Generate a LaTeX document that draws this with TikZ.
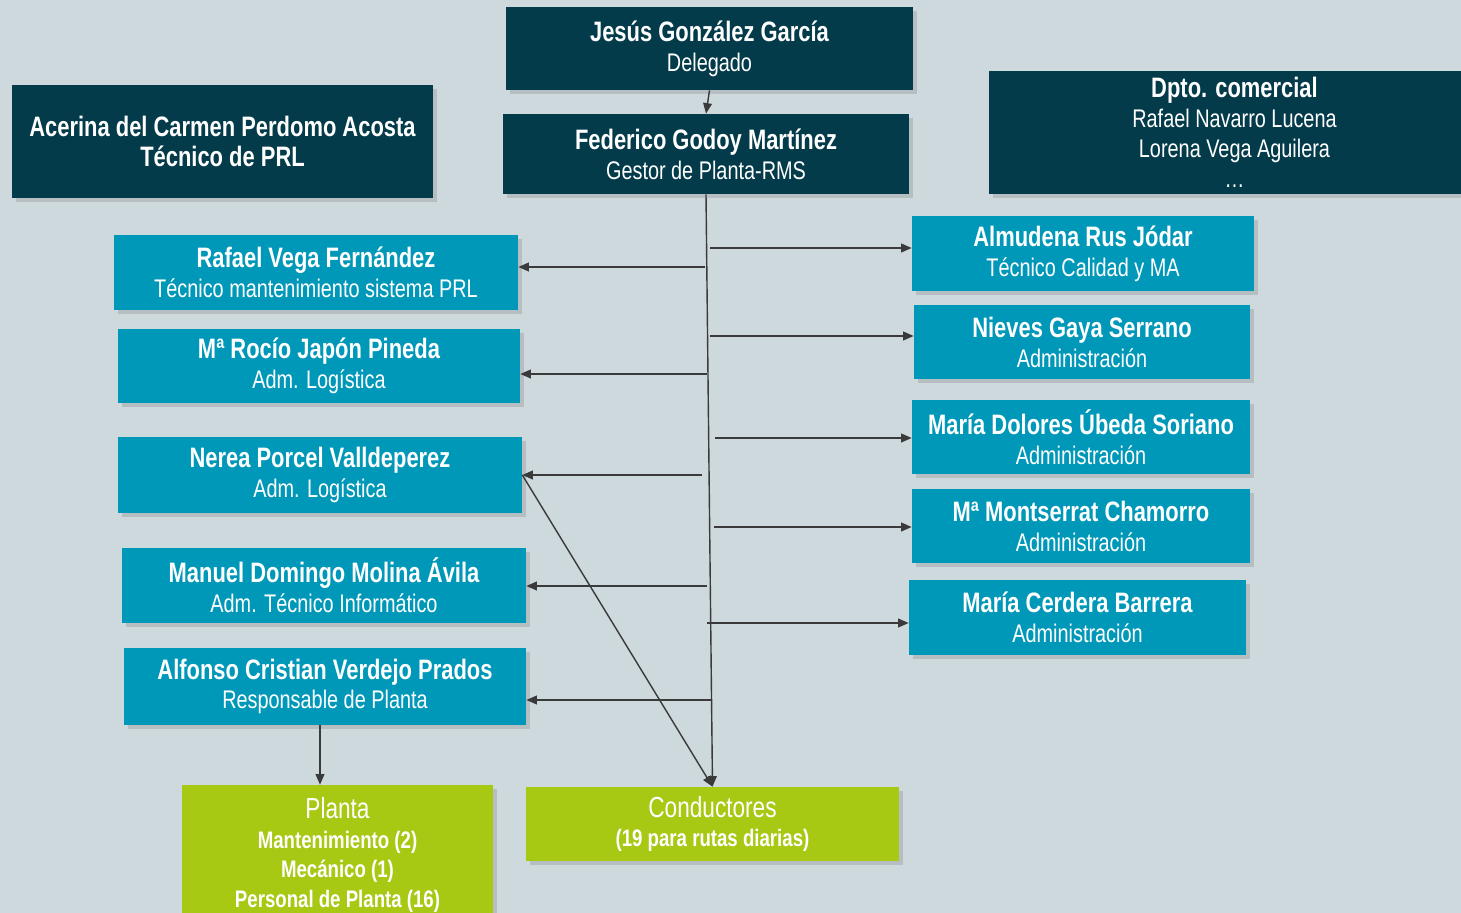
\documentclass[tikz,border=0pt]{standalone}
\usepackage{fontspec}
\setmainfont{Liberation Sans}[FakeStretch=0.78]
\usetikzlibrary{arrows.meta, shadows}
\definecolor{bgpage}{HTML}{CED9DE}
\definecolor{navybox}{HTML}{033B4A}
\definecolor{tealbox}{HTML}{0098B9}
\definecolor{limebox}{HTML}{A7C914}
\definecolor{ln}{HTML}{3A3A3A}
\newcommand{\pname}[1]{{\fontsize{16}{17}\selectfont\bfseries #1}}
\newcommand{\gline}[1]{{\fontsize{13.6}{16}\selectfont\bfseries #1}}
\tikzset{
  card/.style={inner sep=0pt, align=center, text=white,
               font=\fontsize{14.5}{17}\selectfont,
               drop shadow={shadow xshift=2.5pt, shadow yshift=-2.5pt, opacity=0.3}},
  dbox/.style={card, fill=navybox},
  tbox/.style={card, fill=tealbox},
  gbox/.style={card, fill=limebox},
  fl/.style={-{Triangle[length=6pt, width=5pt]}, line width=0.8pt, draw=ln},
}
\begin{document}
\begin{tikzpicture}[x=0.02cm, y=-0.02cm]
    \useasboundingbox (0,0) rectangle (1461,913);
    \fill[bgpage] (0,0) rectangle (1461,913);
    \clip (0,0) rectangle (1461,913);

    % top of the chart
    \node[dbox, minimum width=8.14cm, minimum height=1.66cm] (jg) at (709.5,48.5) {\pname{Jesús González García}\\ Delegado};
    \node[dbox, minimum width=8.12cm, minimum height=1.60cm] (fg) at (706,154) {\pname{Federico Godoy Martínez}\\ Gestor de Planta-RMS};
    \node[dbox, minimum width=8.42cm, minimum height=2.26cm] (ap) at (222.5,141.5) {\pname{Acerina del Carmen Perdomo Acosta}\\ \pname{Técnico de PRL}};
    \node[dbox, minimum width=9.82cm, minimum height=2.46cm] (dc) at (1234.5,132.5) {\pname{Dpto. comercial}\\ Rafael Navarro Lucena\\ Lorena Vega Aguilera\\ \dots};

    % left column
    \node[tbox, minimum width=8.08cm, minimum height=1.50cm] (rv) at (316,272.5) {\pname{Rafael Vega Fernández}\\ Técnico mantenimiento sistema PRL};
    \node[tbox, minimum width=8.04cm, minimum height=1.48cm] (rj) at (319,366) {\pname{Mª Rocío Japón Pineda}\\ Adm. Logística};
    \node[tbox, minimum width=8.08cm, minimum height=1.52cm] (np) at (320,475) {\pname{Nerea Porcel Valldeperez}\\ Adm. Logística};
    \node[tbox, minimum width=8.08cm, minimum height=1.50cm] (mm) at (324,585.5) {\pname{Manuel Domingo Molina Ávila}\\ Adm. Técnico Informático};
    \node[tbox, minimum width=8.04cm, minimum height=1.54cm] (av) at (325,686.5) {\pname{Alfonso Cristian Verdejo Prados}\\ Responsable de Planta};

    % right column
    \node[tbox, minimum width=6.84cm, minimum height=1.50cm] (ar) at (1083,253.5) {\pname{Almudena Rus Jódar}\\ Técnico Calidad y MA};
    \node[tbox, minimum width=6.72cm, minimum height=1.48cm] (ng) at (1082,342) {\pname{Nieves Gaya Serrano}\\ Administración};
    \node[tbox, minimum width=6.76cm, minimum height=1.48cm] (du) at (1081,437) {\pname{María Dolores Úbeda Soriano}\\ Administración};
    \node[tbox, minimum width=6.76cm, minimum height=1.48cm] (mc) at (1081,526) {\pname{Mª Montserrat Chamorro}\\ Administración};
    \node[tbox, minimum width=6.74cm, minimum height=1.50cm] (cb) at (1077.5,617.5) {\pname{María Cerdera Barrera}\\ Administración};

    % bottom
    \node[gbox, minimum width=6.22cm, minimum height=2.80cm] (pl) at (337.5,855) {{\fontsize{16.5}{16}\selectfont Planta}\\ \gline{Mantenimiento (2)}\\ \gline{Mecánico (1)}\\ \gline{Personal de Planta (16)}};
    \node[gbox, minimum width=7.46cm, minimum height=1.48cm] (co) at (712.5,824) {{\fontsize{16.5}{17}\selectfont Conductores}\\ \gline{(19 para rutas diarias)}};

    % connectors
    \draw[fl] (jg.south) -- (fg.north);
    \draw[fl] (fg.south) -- (co.north);
    \draw[fl] (np.east) -- (co.north);

    \coordinate (l1) at (705,267);
    \coordinate (l2) at (707,374);
    \coordinate (l3) at (702,475);
    \coordinate (l4) at (707,586);
    \coordinate (l5) at (712,700);
    \draw[fl] (l1) -- (l1 -| rv.east);
    \draw[fl] (l2) -- (l2 -| rj.east);
    \draw[fl] (l3) -- (l3 -| np.east);
    \draw[fl] (l4) -- (l4 -| mm.east);
    \draw[fl] (l5) -- (l5 -| av.east);

    \coordinate (r1) at (710,248);
    \coordinate (r2) at (710,336);
    \coordinate (r3) at (715,438);
    \coordinate (r4) at (714,527);
    \coordinate (r5) at (707,623);
    \draw[fl] (r1) -- (r1 -| ar.west);
    \draw[fl] (r2) -- (r2 -| ng.west);
    \draw[fl] (r3) -- (r3 -| du.west);
    \draw[fl] (r4) -- (r4 -| mc.west);
    \draw[fl] (r5) -- (r5 -| cb.west);

    \coordinate (a1) at (320,725);
    \draw[fl] (a1) -- (a1 |- pl.north);
  \end{tikzpicture}
\end{document}
